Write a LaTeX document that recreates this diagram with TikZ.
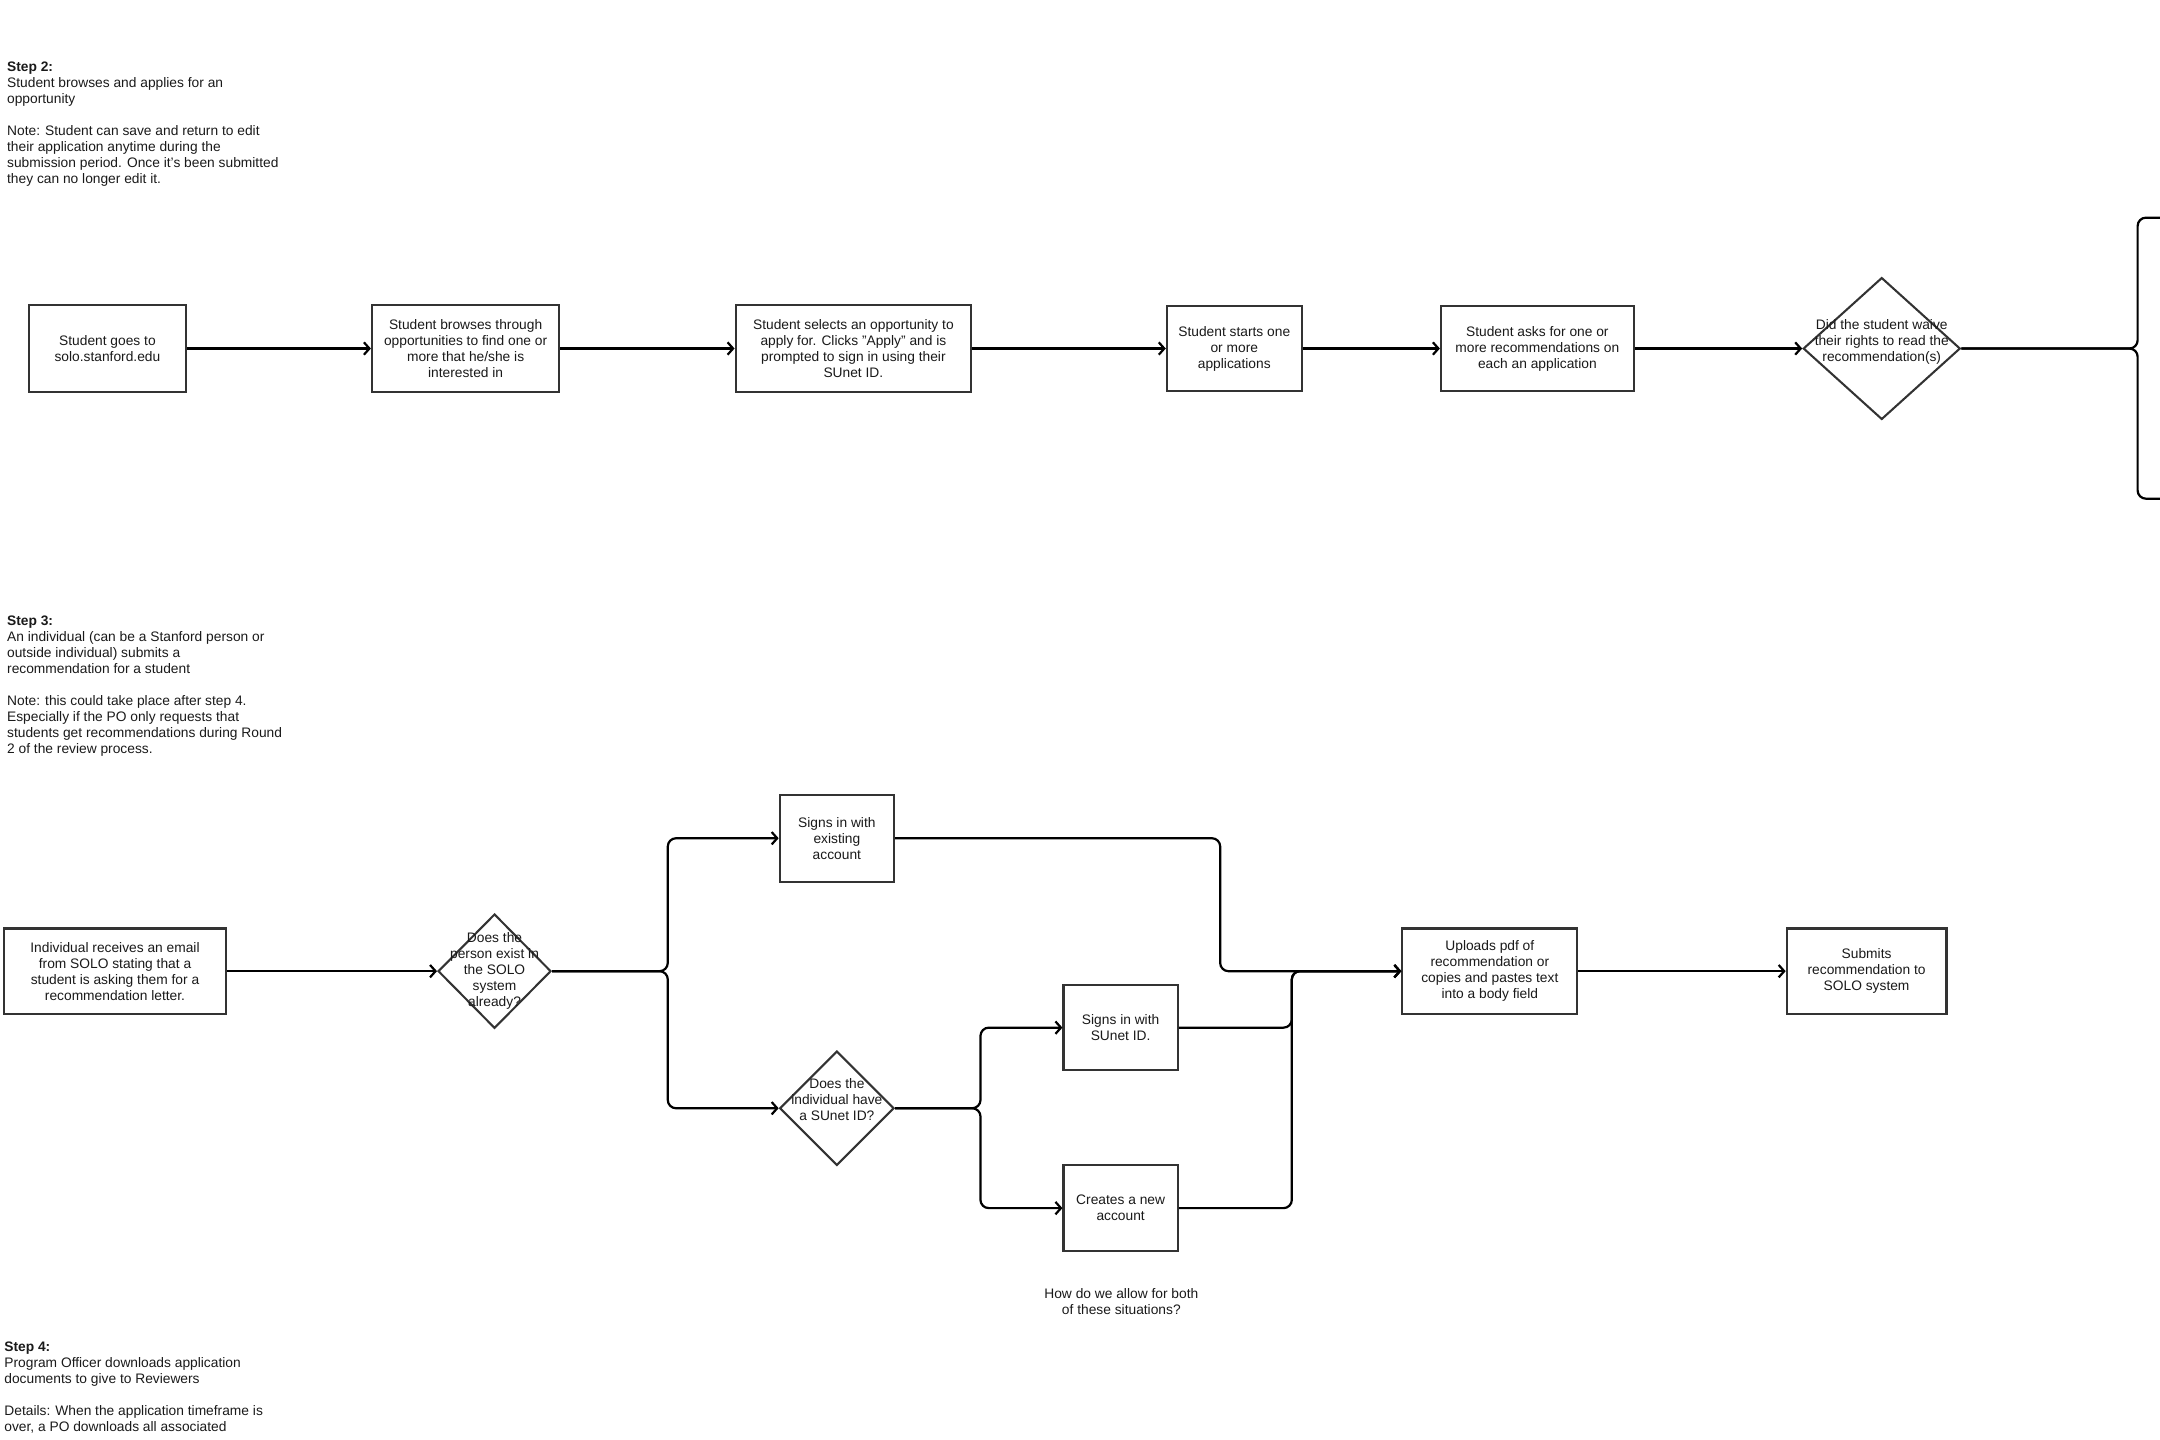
\documentclass[tikz,border=0pt]{standalone}
\usepackage{fontspec}
\setmainfont{Liberation Sans}
\usetikzlibrary{shapes.geometric,arrows.meta}
\definecolor{ink}{HTML}{333333}
\definecolor{txt}{HTML}{1A1A1A}
\tikzset{
    stepbox/.style={draw=ink,line width=1.5pt,fill=white,align=center,inner sep=2pt,
        text=txt,font=\fontsize{10}{11.6}\selectfont},
    decide/.style={draw=ink,line width=1.5pt,fill=white,diamond,inner sep=0pt},
    ask/.style={align=center,inner sep=0pt,text=txt,font=\fontsize{10}{11.6}\selectfont},
    note/.style={align=left,inner sep=0pt,anchor=north west,text=txt,
        font=\fontsize{10}{11.6}\selectfont},
    link/.style={line width=1.6pt,rounded corners=6pt},
    flow/.style={link,->}
}
\begin{document}
\begin{tikzpicture}[x=1pt,y=-1pt,>={Straight Barb[length=4pt,width=9pt]}]
    \useasboundingbox (0,0) rectangle (1568,1045.3);
    % step texts
    \node[note] (step2) at (5,45) {\textbf{Step 2:}\\Student browses and applies for an\\opportunity\\[11.6pt]
        Note: Student can save and return to edit\\their application anytime during the\\
        submission period. Once it's been submitted\\they can no longer edit it.};
    \node[note] (step3) at (5,447) {\textbf{Step 3:}\\An individual (can be a Stanford person or\\
        outside individual) submits a\\recommendation for a student\\[11.6pt]
        Note: this could take place after step 4.\\Especially if the PO only requests that\\
        students get recommendations during Round\\2 of the review process.};
    \node[note] (step4) at (3,974) {\textbf{Step 4:}\\Program Officer downloads application\\
        documents to give to Reviewers\\[11.6pt]
        Details: When the application timeframe is\\over, a PO downloads all associated};
    % step 2 row
    \node[stepbox,minimum width=114pt,minimum height=63pt] (goes) at (78,253)
        {Student goes to\\solo.stanford.edu};
    \node[stepbox,minimum width=136pt,minimum height=63pt] (browse) at (338,253)
        {Student browses through\\opportunities to find one or\\more that he/she is\\interested in};
    \node[stepbox,minimum width=171pt,minimum height=63pt] (select) at (619.5,253)
        {Student selects an opportunity to\\apply for. Clicks "Apply" and is\\prompted to sign in using their\\SUnet ID.};
    \node[stepbox,minimum width=98pt,minimum height=62pt] (starts) at (896,253)
        {Student starts one\\or more\\applications};
    \node[stepbox,minimum width=140pt,minimum height=62pt] (asks) at (1116,253)
        {Student asks for one or\\more recommendations on\\each an application};
    \node[decide,minimum width=114pt,minimum height=103pt,
        label={[ask,yshift=5pt]center:{Did the student waive\\their rights to read the\\recommendation(s)}}]
        (waive) at (1366,253) {};
    \coordinate (waiveup) at (1580,158);
    \coordinate (waivedown) at (1580,362);
    % step 3 flow
    \node[stepbox,minimum width=161pt,minimum height=62pt] (email) at (83.5,705)
        {Individual receives an email\\from SOLO stating that a\\student is asking them for a\\recommendation letter.};
    \node[decide,minimum width=82pt,minimum height=83pt,
        label={[ask]center:{Does the\\person exist in\\the SOLO\\system\\already?}}]
        (exists) at (359,705) {};
    \node[stepbox,minimum width=83pt,minimum height=63pt] (existing) at (607.5,608.5)
        {Signs in with\\existing\\account};
    \node[decide,minimum width=83pt,minimum height=83pt,
        label={[ask,yshift=6pt]center:{Does the\\individual have\\a SUnet ID?}}]
        (hasid) at (607.5,804.5) {};
    \node[stepbox,minimum width=83pt,minimum height=62pt] (sunet) at (813.5,746)
        {Signs in with\\SUnet ID.};
    \node[stepbox,minimum width=83pt,minimum height=62pt] (newacct) at (813.5,877)
        {Creates a new\\account};
    \node[stepbox,minimum width=127pt,minimum height=62pt] (upload) at (1081.5,705)
        {Uploads pdf of\\recommendation or\\copies and pastes text\\into a body field};
    \node[stepbox,minimum width=116pt,minimum height=62pt] (submit) at (1355,705)
        {Submits\\recommendation to\\SOLO system};
    \node[ask] (both) at (814,944.5) {How do we allow for both\\of these situations?};
    % connectors
    \draw[flow] (goes) -- (browse);
    \draw[flow] (browse) -- (select);
    \draw[flow] (select) -- (starts);
    \draw[flow] (starts) -- (asks);
    \draw[flow] (asks) -- (waive);
    \draw[link] (waive.east) -- ++(128,0) |- (waiveup);
    \draw[link] (waive.east) -- ++(128,0) |- (waivedown);
    \draw[flow] (email) -- (exists);
    \draw[flow] (exists.east) -- ++(84,0) |- (existing.west);
    \draw[flow] (exists.east) -- ++(84,0) |- (hasid.west);
    \draw[flow] (hasid.east) -- ++(62,0) |- (sunet.west);
    \draw[flow] (hasid.east) -- ++(62,0) |- (newacct.west);
    \draw[flow] (existing.east) -- ++(236,0) |- (upload.west);
    \draw[flow] (sunet.east) -- ++(82,0) |- (upload.west);
    \draw[flow] (newacct.east) -- ++(82,0) |- (upload.west);
    \draw[flow] (upload) -- (submit);
\end{tikzpicture}
\end{document}
